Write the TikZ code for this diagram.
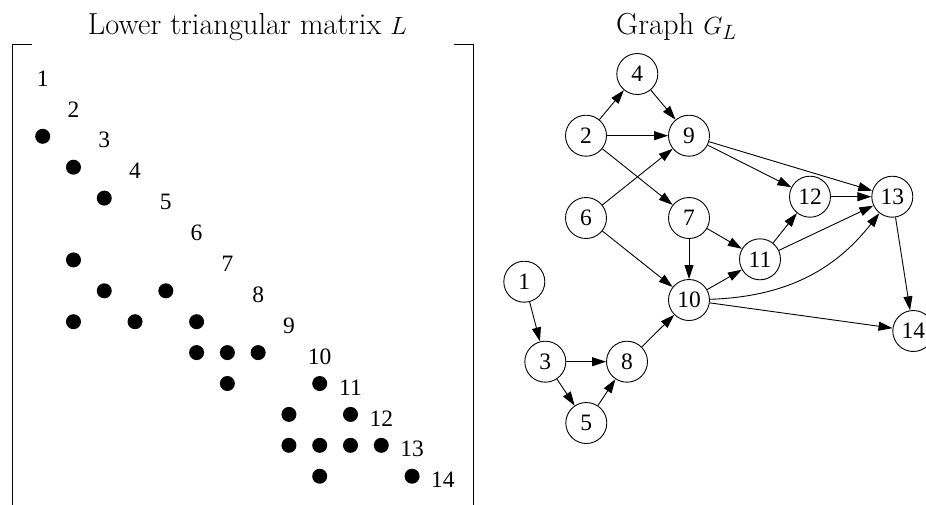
\documentclass[tikz,border=0pt]{standalone}
\usepackage{fontspec}
\newfontfamily\tnr{Liberation Serif}
\usetikzlibrary{arrows.meta}
\begin{document}
\begin{tikzpicture}[x=1pt,y=-1pt,
  vtx/.style={draw,circle,minimum size=41pt,inner sep=0pt,line width=0.9pt,font=\tnr\fontsize{23.5}{23.5}\selectfont},
  edge/.style={line width=0.9pt,-{Triangle[length=14pt,width=9pt]}},
  mdot/.style={circle,fill,minimum size=15pt,inner sep=0pt},
  lab/.style={inner sep=0pt,font=\tnr\fontsize{23.5}{23.5}\selectfont},
  ttl/.style={inner sep=0pt,anchor=base,font=\fontsize{30.4}{33}\selectfont},
  brk/.style={line width=1pt}]
\useasboundingbox (0,0) rectangle (926,504);
% titles
\node[ttl] (t1) at (247.5,34) {Lower triangular matrix $L$};
\node[ttl] (t2) at (676.5,34) {Graph $G_L$};
% brackets
\draw[brk] (32,44.3) -- (12.3,44.3) -- (12.3,510);
\draw[brk] (454,44.3) -- (473.3,44.3) -- (473.3,510);
% diagonal labels
\foreach \i in {1,...,14}{
  \node[lab] (l\i) at ({42.7+(\i-1)*30.78},{78.5+(\i-1)*30.9}) {\i};
}
% dots (row/col)
\foreach \r/\c in {3/1,4/2,5/3,7/2,8/3,8/5,9/2,9/4,9/6,10/6,10/7,10/8,11/7,11/10,12/9,12/11,13/9,13/10,13/11,13/12,14/10,14/13}{
  \node[mdot] (d\r-\c) at ({42.7+(\c-1)*30.78},{74.5+(\r-1)*30.9}) {};
}
% graph nodes
\node[vtx] (n4) at (637.3,74) {4};
\node[vtx] (n2) at (586,135.7) {2};
\node[vtx] (n9) at (689,135.7) {9};
\node[vtx] (n6) at (586,218) {6};
\node[vtx] (n7) at (689,218) {7};
\node[vtx] (n12) at (810,196.7) {12};
\node[vtx] (n13) at (892.3,196.7) {13};
\node[vtx] (n11) at (760,259.3) {11};
\node[vtx] (n10) at (689,300) {10};
\node[vtx] (n1) at (524.3,281.7) {1};
\node[vtx] (n3) at (545.3,361.7) {3};
\node[vtx] (n8) at (627,361.7) {8};
\node[vtx] (n5) at (586.3,423) {5};
\node[vtx] (n14) at (913.3,331) {14};
% edges
\draw[edge] (n2) -- (n4);
\draw[edge] (n4) -- (n9);
\draw[edge] (n2) -- (n9);
\draw[edge] (n2) -- (n7);
\draw[edge] (n6) -- (n9);
\draw[edge] (n6) -- (n10);
\draw[edge] (n7) -- (n10);
\draw[edge] (n7) -- (n11);
\draw[edge] (n9) -- (n12);
\draw[edge] (n9) -- (n13);
\draw[edge] (n12) -- (n13);
\draw[edge] (n11) -- (n12);
\draw[edge] (n11) -- (n13);
\draw[edge] (n10) -- (n11);
\draw[edge] (n10) to[bend right=25] (n13);
\draw[edge] (n10) -- (n14);
\draw[edge] (n13) -- (n14);
\draw[edge] (n1) -- (n3);
\draw[edge] (n3) -- (n8);
\draw[edge] (n3) -- (n5);
\draw[edge] (n5) -- (n8);
\draw[edge] (n8) -- (n10);
\end{tikzpicture}
\end{document}
